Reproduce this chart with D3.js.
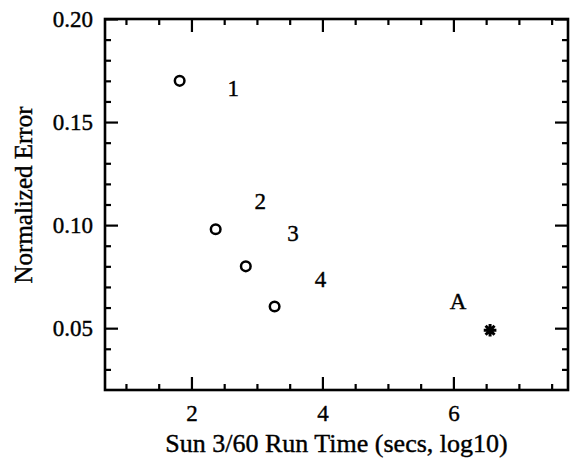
<!DOCTYPE html>
<html>
<head>
<meta charset="utf-8">
<script src="https://cdn.jsdelivr.net/npm/d3@7"></script>
<style>
  html, body { margin: 0; padding: 0; background: #fff; }
  svg { display: block; }
  text { font-family: "Liberation Serif", "DejaVu Serif", serif; fill: #000; stroke: #000; stroke-width: 0.4px; }
</style>
</head>
<body>
<script>
// ---- data ----
const runLabels = ["1", "2", "3", "4"];
const runTime = [1.82, 2.37, 2.83, 3.27];          // log10 secs
const normError = [0.170, 0.098, 0.080, 0.0605];
const runLabelX = [2.64, 3.05, 3.55, 3.97];
const runLabelY = [0.1663, 0.1113, 0.0959, 0.0738];

const refLabels = ["A"];
const refTime = [6.56];
const refError = [0.049];
const refLabelX = [6.07];
const refLabelY = [0.0628];

const xMajorTicks = [2, 4, 6];
const xMinorTicks = [1, 1.5, 2.5, 3, 3.5, 4.5, 5, 5.5, 6.5, 7, 7.5];
const yMajorTicks = [0.05, 0.10, 0.15, 0.20];
const yMinorTicks = [0.03, 0.04, 0.06, 0.07, 0.08, 0.09, 0.11, 0.12, 0.13, 0.14, 0.16, 0.17, 0.18, 0.19];

const xTitle = "Sun 3/60 Run Time (secs, log10)";
const yTitle = "Normalized Error";

// ---- layout ----
const W = 573, H = 467;
const L = 105, R = 568, T = 19, B = 390;

const svg = d3.select("body").append("svg").attr("width", W).attr("height", H);

const x = d3.scaleLinear().domain([0.68, 7.75]).range([L, R]);
const y = d3.scaleLinear().domain([0.02, 0.20]).range([B, T]);

function styleAxis(g) {
  g.select(".domain").remove();
  g.selectAll(".tick line").attr("stroke", "#000").attr("stroke-width", 2.2);
  g.selectAll(".tick text").attr("font-size", 23).attr("font-family", "Liberation Serif, serif").attr("fill", "#000");
}

// bottom axis
svg.append("g").attr("transform", `translate(0,${B})`)
  .call(d3.axisBottom(x).tickValues(xMajorTicks).tickSize(-13).tickSizeOuter(0).tickPadding(15).tickFormat(d3.format("d")))
  .call(styleAxis);
svg.append("g").attr("transform", `translate(0,${B})`)
  .call(d3.axisBottom(x).tickValues(xMinorTicks).tickSize(-6).tickSizeOuter(0).tickFormat(""))
  .call(styleAxis);
// top axis
svg.append("g").attr("transform", `translate(0,${T})`)
  .call(d3.axisTop(x).tickValues(xMajorTicks).tickSize(-13).tickSizeOuter(0).tickFormat(""))
  .call(styleAxis);
svg.append("g").attr("transform", `translate(0,${T})`)
  .call(d3.axisTop(x).tickValues(xMinorTicks).tickSize(-6).tickSizeOuter(0).tickFormat(""))
  .call(styleAxis);
// left axis
svg.append("g").attr("transform", `translate(${L},0)`)
  .call(d3.axisLeft(y).tickValues(yMajorTicks).tickSize(-13).tickSizeOuter(0).tickPadding(12).tickFormat(d3.format(".2f")))
  .call(styleAxis);
svg.append("g").attr("transform", `translate(${L},0)`)
  .call(d3.axisLeft(y).tickValues(yMinorTicks).tickSize(-6).tickSizeOuter(0).tickFormat(""))
  .call(styleAxis);
// right axis
svg.append("g").attr("transform", `translate(${R},0)`)
  .call(d3.axisRight(y).tickValues(yMajorTicks).tickSize(-13).tickSizeOuter(0).tickFormat(""))
  .call(styleAxis);
svg.append("g").attr("transform", `translate(${R},0)`)
  .call(d3.axisRight(y).tickValues(yMinorTicks).tickSize(-6).tickSizeOuter(0).tickFormat(""))
  .call(styleAxis);

// frame
svg.append("rect")
  .attr("x", L).attr("y", T).attr("width", R - L).attr("height", B - T)
  .attr("fill", "none").attr("stroke", "#000").attr("stroke-width", 2.6);

// circles
const runs = runTime.map((t, i) => ({ t, e: normError[i], lab: runLabels[i], lx: runLabelX[i], ly: runLabelY[i] }));
svg.append("g").selectAll("circle").data(runs).join("circle")
  .attr("cx", d => x(d.t)).attr("cy", d => y(d.e)).attr("r", 4.8)
  .attr("fill", "none").attr("stroke", "#000").attr("stroke-width", 2.5);
svg.append("g").selectAll("text").data(runs).join("text")
  .attr("x", d => x(d.lx)).attr("y", d => y(d.ly))
  .attr("text-anchor", "middle").attr("dominant-baseline", "central")
  .attr("font-size", 23).text(d => d.lab);

// reference point (asterisk)
const star8 = {
  draw(ctx, size) {
    const r = Math.sqrt(size) / 2;
    for (let k = 0; k < 4; k++) {
      const a = k * Math.PI / 4;
      ctx.moveTo(-r * Math.cos(a), -r * Math.sin(a));
      ctx.lineTo(r * Math.cos(a), r * Math.sin(a));
    }
  }
};
const refs = refTime.map((t, i) => ({ t, e: refError[i], lab: refLabels[i], lx: refLabelX[i], ly: refLabelY[i] }));
svg.append("g").selectAll("path").data(refs).join("path")
  .attr("transform", d => `translate(${x(d.t)},${y(d.e)})`)
  .attr("d", d3.symbol().type(star8).size(160))
  .attr("fill", "none").attr("stroke", "#000").attr("stroke-width", 3);
svg.append("g").selectAll("text").data(refs).join("text")
  .attr("x", d => x(d.lx)).attr("y", d => y(d.ly))
  .attr("text-anchor", "middle").attr("dominant-baseline", "central")
  .attr("font-size", 23).text(d => d.lab);

// axis titles
svg.append("text")
  .attr("x", (L + R) / 2).attr("y", 452)
  .attr("text-anchor", "middle").attr("font-size", 26).text(xTitle);
svg.append("text")
  .attr("transform", `translate(32,195) rotate(-90)`)
  .attr("text-anchor", "middle").attr("font-size", 25).text(yTitle);
</script>
</body>
</html>
